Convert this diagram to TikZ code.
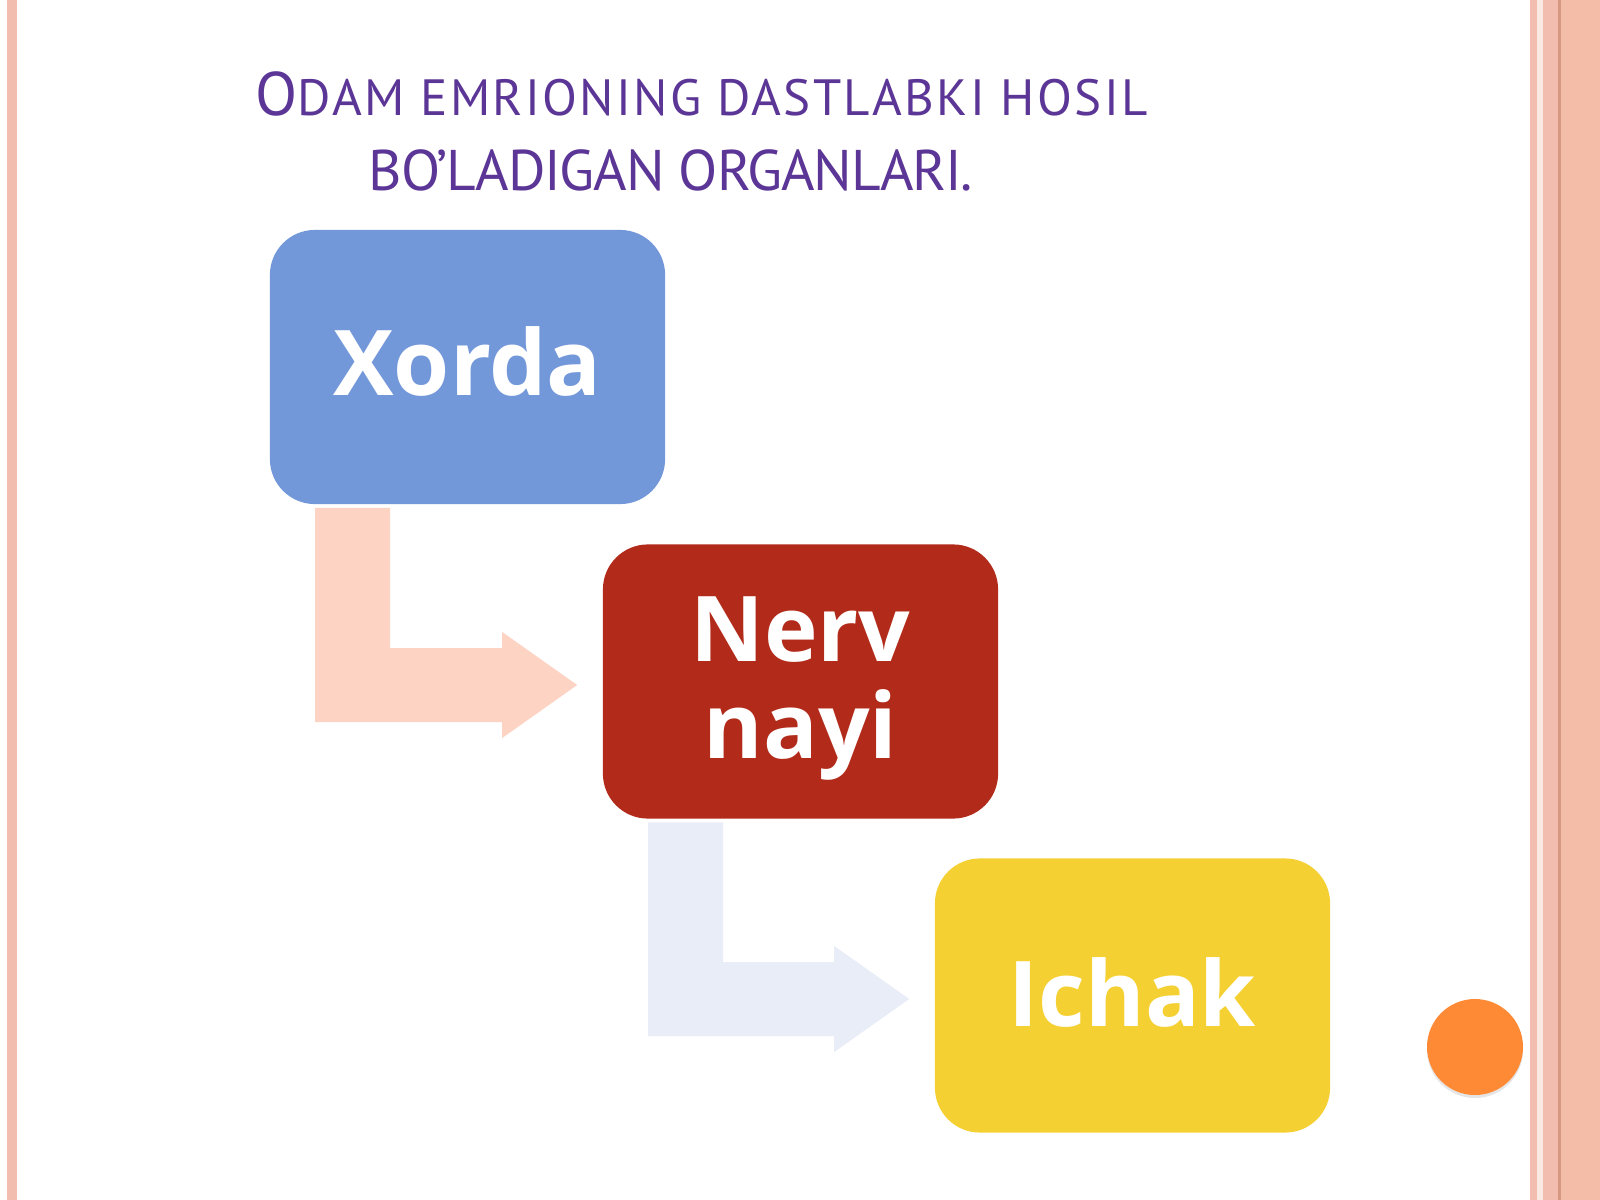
\documentclass[tikz,border=0pt]{standalone}
\usepackage{fontspec}
\usetikzlibrary{calc,shadows}
\newfontfamily\titlefont{PT Sans}
\newfontfamily\titlescfont[LetterSpace=4.5]{PT Sans}
\newfontfamily\titletightfont[LetterSpace=-2]{PT Sans}
\newfontfamily\boxfont{Open Sans}
\definecolor{titlepurple}{RGB}{92,54,150}
\definecolor{xordablue}{RGB}{115,152,218}
\definecolor{nervred}{RGB}{178,43,26}
\definecolor{ichakyellow}{RGB}{245,208,51}
\definecolor{arrowpink}{RGB}{253,211,196}
\definecolor{arrowblue}{RGB}{232,237,248}
\definecolor{dotorange}{RGB}{255,138,53}
\definecolor{edgepink}{RGB}{242,188,174}
\definecolor{edgelight}{RGB}{250,232,226}
\definecolor{edgedark}{RGB}{214,152,128}
\definecolor{edgesalmon}{RGB}{243,189,167}
% bent block arrow from below #1 to the left side of #2
\newcommand\bentarrow[3]{%
    \coordinate (tl) at ($(#1.south west)+(46,3)$);
    \coordinate (tip) at ($(#2.west)+(-25,3.5)$);
    \fill[#3] (tl) -- ($(tl)+(75,0)$) -- ($(tl |- tip)+(75,-37)$)
        -- ($(tip)+(-75,-37)$) -- ($(tip)+(-75,-53)$) -- (tip)
        -- ($(tip)+(-75,53)$) -- ($(tip)+(-75,37)$)
        -- ($(tl |- tip)+(0,37)$) -- cycle;
}
\begin{document}
\begin{tikzpicture}[
        x = 0.01cm,
        y = -0.01cm,
        organ/.style = {rectangle, rounded corners = 0.45cm,
            minimum width = 3.95cm, minimum height = 2.74cm,
            inner sep = 0pt, text = white, align = center,
            font = \boxfont\bfseries\fontsize{25.8}{27.3}\selectfont},
        title/.style = {anchor = base west, inner sep = 0pt, text = titlepurple}
    ]
        \useasboundingbox (0,0) rectangle (1600,1200);
        \fill[white] (0,0) rectangle (1600,1200);
        % page edges
        \fill[edgepink] (7,0) rectangle (17,1200);
        \fill[edgepink] (1530,0) rectangle (1537,1200);
        \fill[edgelight] (1537,0) rectangle (1543,1200);
        \fill[edgepink] (1543,0) rectangle (1558,1200);
        \fill[edgedark] (1558,0) rectangle (1561,1200);
        \fill[edgesalmon] (1561,0) rectangle (1600,1200);
        % title
        \node[title] (title1) at (255,115)
            {{\titlefont\fontsize{17.5}{20}\selectfont O}{\titlescfont\fontsize{14.5}{16}\selectfont DAM EMRIONING DASTLABKI HOSIL}};
        \node[title] (title2) at (368,190)
            {\titletightfont\fontsize{16.3}{20}\selectfont BO’LADIGAN ORGANLARI.};
        % organs
        \node[organ, fill = xordablue, text depth = 3.4pt] (xorda) at (467.5,367) {Xorda};
        \node[organ, fill = nervred] (nerv) at (800.5,681.5) {\rule{0pt}{22.4pt}Nerv\\nayi};
        \node[organ, fill = ichakyellow, text depth = 1.8pt] (ichak) at (1132.5,995.5) {Ichak};
        \bentarrow{xorda}{nerv}{arrowpink}
        \bentarrow{nerv}{ichak}{arrowblue}
        \fill[dotorange, drop shadow = {shadow xshift = 0cm, shadow yshift = -0.03cm, opacity = .2}] (1475,1047) circle (48);
    \end{tikzpicture}
\end{document}
